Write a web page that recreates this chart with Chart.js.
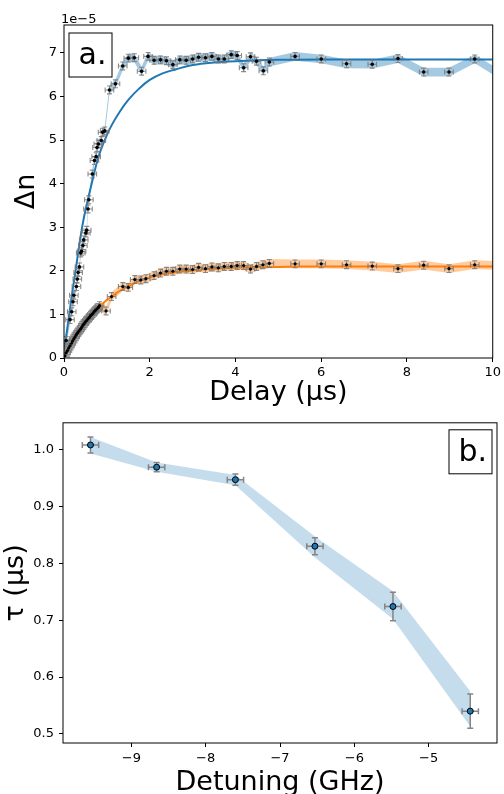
<!DOCTYPE html>
<html>
<head>
<meta charset="utf-8">
<script src="https://cdn.jsdelivr.net/npm/chart.js@4.4.0/dist/chart.umd.min.js"></script>
<style>
  html, body { margin: 0; padding: 0; background: #fff; }
  #wrap { position: relative; width: 504px; height: 794px; overflow: hidden; }
  canvas { position: absolute; left: 0; }
</style>
</head>
<body>
<div id="wrap">
  <canvas id="chartA" width="504" height="410" style="top:0px"></canvas>
  <canvas id="chartB" width="504" height="384" style="top:410px"></canvas>
</div>
<script>
// panel a: delay (us) vs delta n (x1e-5)
const delayBlue = [0.05,0.14,0.18,0.21,0.23,0.29,0.31,0.33,0.36,0.39,0.41,0.44,0.46,0.51,0.53,0.56,0.58,0.66,0.71,0.75,
  0.77,0.80,0.87,0.90,0.95,1.06,1.20,1.37,1.50,1.64,1.81,1.96,2.10,2.25,2.39,2.54,2.70,2.85,3.00,3.14,
  3.30,3.45,3.60,3.74,3.90,4.04,4.19,4.35,4.49,4.65,4.79,5.39,6.00,6.59,7.19,7.79,8.39,8.98,9.58,10.18];
const dnBlue = [0.40,0.88,1.06,1.29,1.44,1.64,1.81,1.96,2.09,2.41,2.45,2.58,2.71,2.87,2.93,3.42,3.63,4.22,4.53,4.62,
  4.83,4.91,4.99,5.18,5.21,6.15,6.29,6.70,6.88,6.89,6.58,6.92,6.83,6.84,6.82,6.73,6.84,6.83,6.86,6.90,
  6.89,6.92,6.86,6.86,6.96,6.94,6.66,6.91,6.81,6.59,6.79,6.92,6.86,6.75,6.74,6.87,6.56,6.56,6.86,6.50];

const delayOrange = [0.02,0.05,0.08,0.11,0.14,0.17,0.20,0.23,0.26,0.29,0.32,0.35,0.38,0.41,0.44,0.47,0.50,0.53,0.56,0.59,
  0.62,0.65,0.68,0.71,0.74,0.77,0.80,0.83,0.98,1.11,1.37,1.50,1.65,1.79,1.91,2.10,2.25,2.39,2.54,2.70,
  2.85,3.00,3.14,3.30,3.45,3.60,3.74,3.90,4.04,4.19,4.35,4.49,4.64,4.79,5.39,6.00,6.59,7.19,7.79,8.39,
  8.98,9.58,10.18];
const dnOrange = [0.05,0.12,0.17,0.23,0.28,0.34,0.39,0.44,0.49,0.54,0.58,0.62,0.66,0.70,0.75,0.79,0.83,0.86,0.90,0.93,
  0.97,1.00,1.03,1.07,1.10,1.13,1.16,1.20,1.08,1.41,1.64,1.62,1.80,1.79,1.82,1.89,1.95,1.99,1.99,2.04,
  2.04,2.03,2.08,2.05,2.09,2.07,2.10,2.10,2.12,2.12,2.04,2.10,2.14,2.17,2.16,2.16,2.14,2.11,2.05,2.13,
  2.05,2.14,2.12];

const delayErr = 0.1;   // us
const dnErr = 0.09;     // 1e-5
const bandHalf = 0.1;

// fitted curves
const fitDelay = [0,0.05,0.1,0.15,0.2,0.27,0.35,0.45,0.55,0.67,0.8,0.95,1.1,1.3,1.5,1.75,2.0,2.3,2.6,3.0,3.5,4.0,5.0,6.0,8.0,10.0];
const fitBlue = [0.2,0.5,0.85,1.2,1.55,2.0,2.55,3.15,3.6,4.1,4.6,5.0,5.32,5.65,5.92,6.18,6.38,6.53,6.62,6.72,6.78,6.81,6.84,6.85,6.85,6.85];
const fitOrange = [0.02,0.12,0.21,0.30,0.39,0.50,0.62,0.76,0.88,1.02,1.15,1.29,1.40,1.54,1.65,1.76,1.85,1.92,1.97,2.01,2.05,2.07,2.09,2.10,2.10,2.10];

const xTicksA = [0, 2, 4, 6, 8, 10];
const yTicksA = [0, 1, 2, 3, 4, 5, 6, 7];

// panel b: detuning (GHz) vs tau (us)
const detuning = [-9.55, -8.66, -7.60, -6.53, -5.48, -4.44];
const tau = [1.008, 0.969, 0.947, 0.830, 0.724, 0.540];
const tauErr = [0.014, 0.008, 0.010, 0.015, 0.025, 0.030];
const detErr = [0.11, 0.11, 0.11, 0.11, 0.11, 0.11];
const tauBandLow = [0.993, 0.961, 0.937, 0.810, 0.702, 0.513];
const tauBandHigh = [1.022, 0.977, 0.955, 0.847, 0.751, 0.575];

const xTicksB = [-9, -8, -7, -6, -5];
const yTicksB = [0.5, 0.6, 0.7, 0.8, 0.9, 1.0];

Chart.defaults.font.family = "'DejaVu Sans', sans-serif";
Chart.defaults.color = '#000';

const pts = (xs, ys) => xs.map((x, i) => ({x: x, y: ys[i]}));

// error bars, drawn right before the marker dataset
const errBars = {
  id: 'errBars',
  beforeDatasetDraw(chart, args) {
    const ds = chart.data.datasets[args.index];
    if (!ds.errX) return;
    const {ctx, chartArea: a, scales: {x, y}} = chart;
    ctx.save();
    ctx.beginPath();
    ctx.rect(a.left, a.top, a.right - a.left, a.bottom - a.top);
    ctx.clip();
    ctx.strokeStyle = ds.errColor;
    ctx.lineWidth = ds.errWidth;
    const c = ds.capSize;
    ds.data.forEach((p, i) => {
      const ex = Array.isArray(ds.errX) ? ds.errX[i] : ds.errX;
      const ey = Array.isArray(ds.errY) ? ds.errY[i] : ds.errY;
      const px = x.getPixelForValue(p.x), py = y.getPixelForValue(p.y);
      const x0 = x.getPixelForValue(p.x - ex), x1 = x.getPixelForValue(p.x + ex);
      const y0 = y.getPixelForValue(p.y - ey), y1 = y.getPixelForValue(p.y + ey);
      ctx.beginPath();
      ctx.moveTo(x0, py); ctx.lineTo(x1, py);
      ctx.moveTo(x0, py - c); ctx.lineTo(x0, py + c);
      ctx.moveTo(x1, py - c); ctx.lineTo(x1, py + c);
      ctx.moveTo(px, y0); ctx.lineTo(px, y1);
      ctx.moveTo(px - c, y0); ctx.lineTo(px + c, y0);
      ctx.moveTo(px - c, y1); ctx.lineTo(px + c, y1);
      ctx.stroke();
    });
    ctx.restore();
  }
};

// full box frame, panel letter, offset text
const frame = {
  id: 'frame',
  afterDraw(chart, args, opts) {
    const {ctx, chartArea: a} = chart;
    ctx.save();
    ctx.strokeStyle = '#000';
    ctx.lineWidth = 1;
    ctx.strokeRect(a.left, a.top, a.right - a.left, a.bottom - a.top);
    const w = 43, h = 44;
    const bx = opts.side === 'left' ? a.left + 5 : a.right - 5 - w;
    const by = a.top + opts.dy;
    ctx.fillStyle = '#fff';
    ctx.fillRect(bx, by, w, h);
    ctx.strokeRect(bx, by, w, h);
    ctx.fillStyle = '#000';
    ctx.font = "30px 'DejaVu Sans'";
    ctx.textAlign = 'left';
    ctx.textBaseline = 'alphabetic';
    ctx.fillText(opts.text, bx + 9.5, by + 31);
    if (opts.offsetText) {
      ctx.font = "13px 'DejaVu Sans'";
      ctx.fillText(opts.offsetText, a.left - 3, a.top - 2.5);
    }
    ctx.restore();
  }
};

const axisCommon = {
  grid: {display: true, drawOnChartArea: false, drawTicks: true, tickLength: 4, tickColor: '#000', tickWidth: 1},
  border: {display: false}
};

new Chart(document.getElementById('chartA'), {
  type: 'scatter',
  data: {
    datasets: [
      {label: 'blue data', data: pts(delayBlue, dnBlue), pointRadius: 1.8, pointBackgroundColor: '#000',
       pointBorderWidth: 0, showLine: false, order: 0,
       errX: delayErr, errY: dnErr, errColor: 'rgba(120,120,120,0.85)', errWidth: 1.1, capSize: 2.5},
      {label: 'orange data', data: pts(delayOrange, dnOrange), pointRadius: 1.6, pointBackgroundColor: '#000',
       pointBorderWidth: 0, showLine: false, order: 0,
       errX: delayErr, errY: dnErr, errColor: 'rgba(120,120,120,0.85)', errWidth: 1.1, capSize: 2.5},
      {label: 'blue fit', data: pts(fitDelay, fitBlue), showLine: true, borderColor: '#1f77b4', borderWidth: 2,
       pointRadius: 0, tension: 0.4, order: 1},
      {label: 'orange fit', data: pts(fitDelay, fitOrange), showLine: true, borderColor: '#ff7f0e', borderWidth: 2,
       pointRadius: 0, tension: 0.4, order: 1},
      {label: 'blue hi', data: pts(delayBlue, dnBlue.map(v => v + bandHalf)), showLine: true, borderWidth: 0,
       pointRadius: 0, fill: '+1', backgroundColor: 'rgba(31,119,180,0.4)', order: 2},
      {label: 'blue lo', data: pts(delayBlue, dnBlue.map(v => v - bandHalf)), showLine: true, borderWidth: 0,
       pointRadius: 0, order: 2},
      {label: 'orange hi', data: pts(delayOrange, dnOrange.map(v => v + bandHalf)), showLine: true, borderWidth: 0,
       pointRadius: 0, fill: '+1', backgroundColor: 'rgba(255,127,14,0.4)', order: 2},
      {label: 'orange lo', data: pts(delayOrange, dnOrange.map(v => v - bandHalf)), showLine: true, borderWidth: 0,
       pointRadius: 0, order: 2}
    ]
  },
  options: {
    responsive: false,
    animation: false,
    devicePixelRatio: 1,
    layout: {padding: {top: 25, right: 7, left: 0, bottom: 0}},
    plugins: {
      legend: {display: false},
      tooltip: {enabled: false},
      frame: {side: 'left', dy: 8, text: 'a.', offsetText: '1e\u22125'}
    },
    scales: {
      x: {
        ...axisCommon,
        type: 'linear', min: 0, max: 10,
        afterBuildTicks: s => { s.ticks = xTicksA.map(v => ({value: v})); },
        afterFit: s => { s.height = 52; },
        ticks: {font: {size: 13}, padding: 3, maxRotation: 0, callback: v => String(v)},
        title: {display: true, text: 'Delay (\u00b5s)', font: {size: 27}, padding: {top: 0, bottom: 1}}
      },
      y: {
        ...axisCommon,
        type: 'linear', min: 0, max: 7.64,
        afterBuildTicks: s => { s.ticks = yTicksA.map(v => ({value: v})); },
        afterFit: s => { s.width = 64; },
        ticks: {font: {size: 13}, padding: 3, callback: v => String(v)},
        title: {display: true, text: '\u0394n', font: {size: 27}, padding: {top: 10.5, bottom: 0}}
      }
    }
  },
  plugins: [errBars, frame]
});

new Chart(document.getElementById('chartB'), {
  type: 'scatter',
  data: {
    datasets: [
      {label: 'tau', data: pts(detuning, tau), pointRadius: 3, pointBackgroundColor: '#1f77b4',
       pointBorderColor: '#000', pointBorderWidth: 1, showLine: false, order: 0,
       errX: detErr, errY: tauErr, errColor: 'rgba(128,128,128,0.95)', errWidth: 1.5, capSize: 3},
      {label: 'band hi', data: pts(detuning, tauBandHigh), showLine: true, borderWidth: 0, pointRadius: 0,
       fill: '+1', backgroundColor: 'rgba(31,119,180,0.26)', order: 2},
      {label: 'band lo', data: pts(detuning, tauBandLow), showLine: true, borderWidth: 0, pointRadius: 0, order: 2}
    ]
  },
  options: {
    responsive: false,
    animation: false,
    devicePixelRatio: 1,
    layout: {padding: {top: 11, right: 7, left: 0, bottom: 0}},
    plugins: {
      legend: {display: false},
      tooltip: {enabled: false},
      frame: {side: 'right', dy: 7, text: 'b.'}
    },
    scales: {
      x: {
        ...axisCommon,
        type: 'linear', min: -9.92, max: -4.08,
        afterBuildTicks: s => { s.ticks = xTicksB.map(v => ({value: v})); },
        afterFit: s => { s.height = 51; },
        ticks: {font: {size: 13}, padding: 4, maxRotation: 0,
                callback: v => (v < 0 ? '\u2212' : '') + Math.abs(v)},
        title: {display: true, text: 'Detuning (GHz)', font: {size: 27}, padding: {top: 0, bottom: -5}}
      },
      y: {
        ...axisCommon,
        type: 'linear', min: 0.484, max: 1.047,
        afterBuildTicks: s => { s.ticks = yTicksB.map(v => ({value: v})); },
        afterFit: s => { s.width = 63; },
        ticks: {font: {size: 13}, padding: 5, callback: v => Number(v).toFixed(1)},
        title: {display: true, text: '\u03c4 (\u00b5s)', font: {size: 27}, padding: {top: 0, bottom: 0}}
      }
    }
  },
  plugins: [errBars, frame]
});
</script>
</body>
</html>
